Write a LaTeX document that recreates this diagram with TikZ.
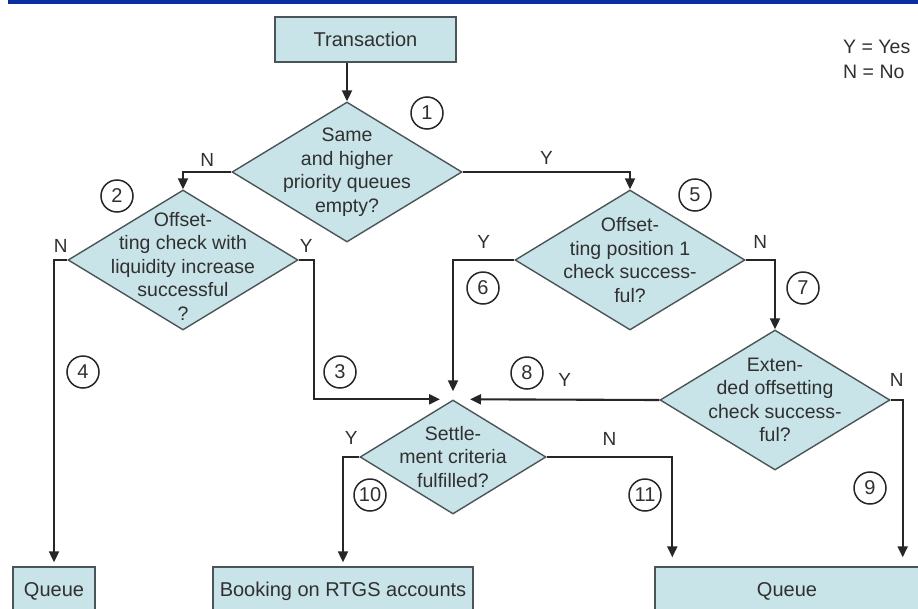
\documentclass[tikz,border=0pt]{standalone}
\usepackage{fontspec}
\setmainfont{Liberation Sans}
\usetikzlibrary{shapes.geometric,arrows.meta}

\definecolor{boxfill}{RGB}{200,228,232}
\definecolor{boxline}{RGB}{75,85,88}
\definecolor{inkgray}{RGB}{48,48,48}
\definecolor{rulebl}{RGB}{10,45,160}

\tikzset{
  process/.style={rectangle, draw=boxline, fill=boxfill, line width=1.4pt,
    text=inkgray, font=\fontsize{20}{24}\selectfont, inner sep=0pt},
  decision/.style={diamond, draw=boxline, fill=boxfill, line width=1.4pt,
    minimum width=230pt, minimum height=140pt, inner sep=0pt},
  dtext/.style={align=center, text=inkgray, font=\fontsize{19.5}{23.5}\selectfont, inner sep=0pt},
  flow/.style={draw=black!85, line width=2.1pt, -{Triangle[length=11pt,width=10pt]}},
  yn/.style={text=inkgray, font=\fontsize{19}{19}\selectfont, inner sep=1pt},
  stepno/.style={circle, draw=black!85, line width=1.5pt, minimum size=32pt,
    inner sep=0pt, text=inkgray, font=\fontsize{20}{20}\selectfont},
  legend/.style={align=left, text=inkgray, font=\fontsize{19.5}{25}\selectfont, inner sep=0pt}
}

\begin{document}
\begin{tikzpicture}[x=1pt, y=-1pt]
\useasboundingbox (0,0) rectangle (918,608);
\fill[rulebl] (8,0) rectangle (918,3.5);

% start and end boxes
\node[process, minimum width=181pt, minimum height=45pt] (tr) at (365.5,39.5) {Transaction};
\node[process, minimum width=82pt, minimum height=48pt] (q1) at (54,591) {Queue};
\node[process, minimum width=260pt, minimum height=48pt] (bk) at (343,591) {Booking on RTGS accounts};
\node[process, minimum width=264pt, minimum height=48pt] (q2) at (787,591) {Queue};

% decisions
\node[decision] (d1) at (347,172) {};
\node[dtext] (d1t) at (d1) {Same\\and higher\\priority queues\\empty?};
\node[decision] (d2) at (183,260) {};
\node[dtext] (d2t) at ([yshift=-6pt]d2) {Offset-\\ting check with\\liquidity increase\\successful\\?};
\node[decision] (d5) at (630,260) {};
\node[dtext] (d5t) at (d5) {Offset-\\ting position 1\\check success-\\ful?};
\node[decision] (d8) at (775,400) {};
\node[dtext] (d8t) at (d8) {Exten-\\ded offsetting\\check success-\\ful?};
\node[decision, minimum width=186pt, minimum height=114pt] (st) at (453,457) {};
\node[dtext] (stt) at (st) {Settle-\\ment criteria\\fulfilled?};

\node[legend, anchor=west] (key) at (843,59) {Y = Yes\\N = No};

% connectors
\draw[flow] (tr.south -| d1.north) -- (d1.north);
\draw[flow] (d1.west) -| node[yn, pos=0.25, above=3pt] {N} (d2.north);
\draw[flow] (d1.east) -| node[yn, pos=0.25, above=5pt] {Y} (d5.north);
\draw[flow, shorten >=4pt] (d2.west) -| node[yn, pos=0.25, above=5pt] {N} (q1.north);
\draw[flow] (d2.east) -- node[yn, above=5pt] {Y} ++(15,0) |- ([xshift=-13pt]st.north);
\draw[flow] (d5.west) -| node[yn, pos=0.25, above=9pt] {Y} ([yshift=8pt]st.north);
\draw[flow] (d5.east) -| node[yn, pos=0.25, above=9pt] {N} (d8.north);
\draw[flow] (d8.west) -- node[yn, above=11pt] {Y} ([xshift=17pt]st.north);
\draw[flow, shorten >=9pt] (d8.east) -| node[yn, pos=0.25, above=11pt] {N} ([xshift=-17pt]q2.north east);
\draw[flow, shorten >=4pt] (st.west) -| node[yn, pos=0.25, above=10pt] {Y} (bk.north);
\draw[flow, shorten >=9pt] (st.east) -| node[yn, pos=0.25, above=9pt] {N} ([xshift=18pt]q2.north west);

% step numbers
\foreach \n/\x/\y in {1/427/113, 2/117/196, 3/340/372, 4/83/372, 5/695/195, 6/483/288,
    7/803/288, 8/527/373, 9/870/488, 10/370/495, 11/645/495}
  \node[stepno] (s\n) at (\x,\y) {\n};
\end{tikzpicture}
\end{document}
